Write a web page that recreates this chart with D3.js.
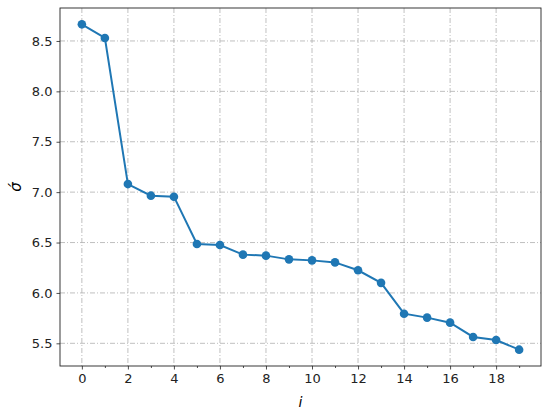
<!DOCTYPE html>
<html><head><meta charset="utf-8">
<script src="https://cdn.jsdelivr.net/npm/d3@7"></script>
<style>body{margin:0;background:#fff}svg{display:block}</style>
</head><body>
<script>
const indices = [0,1,2,3,4,5,6,7,8,9,10,11,12,13,14,15,16,17,18,19];
const sigmaValues = [8.665,8.53,7.08,6.965,6.955,6.485,6.475,6.38,6.37,6.333,6.323,6.303,6.225,6.10,5.794,5.755,5.705,5.563,5.533,5.437];
const xTicks = [0,2,4,6,8,10,12,14,16,18];
const xMinorTicks = [1,3,5,7,9,11,13,15,17,19];
const yTicks = [5.5,6.0,6.5,7.0,7.5,8.0,8.5];

const W=550,H=412;
const m={l:60,r:9,t:8,b:46};
const svg=d3.select("body").append("svg").attr("width",W).attr("height",H);
const x=d3.scaleLinear().domain([-0.95,19.95]).range([m.l,W-m.r]);
const y=d3.scaleLinear().domain([5.275,8.827]).range([H-m.b,m.t]);
const font="DejaVu Sans, sans-serif";
const col="#1f77b4";

// grid
const g=svg.append("g");
g.selectAll("line.vx").data(xTicks).join("line")
 .attr("x1",d=>x(d)).attr("x2",d=>x(d)).attr("y1",m.t).attr("y2",H-m.b)
 .attr("stroke","#b0b0b0").attr("stroke-width",0.8).attr("stroke-dasharray","5,2,1,2");
g.selectAll("line.hy").data(yTicks).join("line")
 .attr("y1",d=>y(d)).attr("y2",d=>y(d)).attr("x1",m.l).attr("x2",W-m.r)
 .attr("stroke","#b0b0b0").attr("stroke-width",0.8).attr("stroke-dasharray","5,2,1,2");

// line + markers
svg.append("path").datum(indices)
 .attr("d",d3.line().x(i=>x(i)).y(i=>y(sigmaValues[i])))
 .attr("fill","none").attr("stroke",col).attr("stroke-width",2);
svg.selectAll("circle").data(indices).join("circle")
 .attr("cx",i=>x(i)).attr("cy",i=>y(sigmaValues[i])).attr("r",4.3).attr("fill",col);

// axes
const xa=svg.append("g").attr("transform",`translate(0,${H-m.b})`)
 .call(d3.axisBottom(x).tickValues(xTicks).tickFormat(d3.format("d")).tickSize(3.5).tickPadding(4));
const xm=svg.append("g").attr("transform",`translate(0,${H-m.b})`)
 .call(d3.axisBottom(x).tickValues(xMinorTicks).tickFormat("").tickSize(2));
const ya=svg.append("g").attr("transform",`translate(${m.l},0)`)
 .call(d3.axisLeft(y).tickValues(yTicks).tickFormat(d3.format(".1f")).tickSize(3.5).tickPadding(4));
[xa,xm,ya].forEach(a=>{a.select(".domain").remove();a.selectAll("line").attr("stroke","#222").attr("stroke-width",0.8);
 a.selectAll("text").attr("font-family",font).attr("font-size",13).attr("fill","#222");});

svg.append("rect").attr("x",m.l).attr("y",m.t).attr("width",W-m.l-m.r).attr("height",H-m.t-m.b)
 .attr("fill","none").attr("stroke","#222").attr("stroke-width",0.9);

svg.append("text").attr("x",(m.l+W-m.r)/2).attr("y",407).attr("text-anchor","middle")
 .attr("font-family",font).attr("font-size",14).attr("font-style","italic").text("i");
svg.append("text").attr("transform",`translate(21,${(m.t+H-m.b)/2}) rotate(-90)`).attr("text-anchor","middle")
 .attr("font-family",font).attr("font-size",15).attr("font-style","italic").text("σ́");
</script>
</body></html>
